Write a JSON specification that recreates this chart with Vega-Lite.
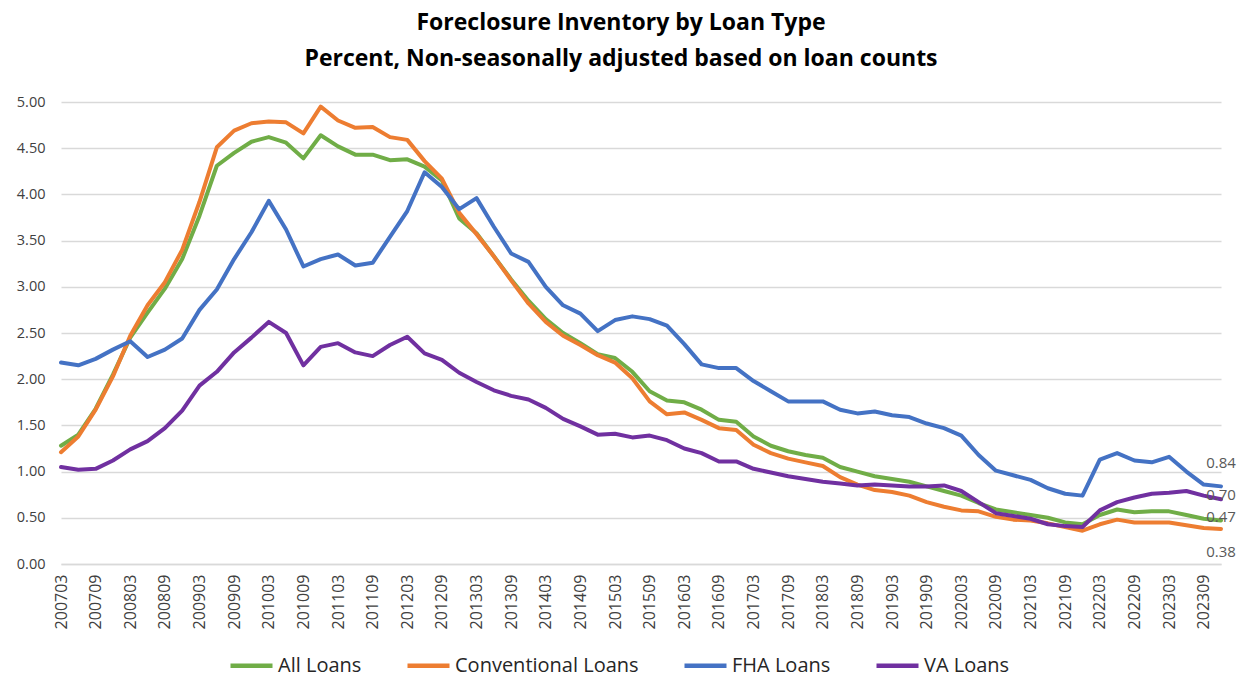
{
  "$schema": "https://vega.github.io/schema/vega-lite/v6.json",
  "autosize": {"type": "none"},
  "padding": {"left": 61, "top": 102, "right": 24, "bottom": 118},
  "width": 1160,
  "height": 462,
  "background": "white",
  "title": {
    "text": ["Foreclosure Inventory by Loan Type", "Percent, Non-seasonally adjusted based on loan counts"],
    "font": "Open Sans",
    "fontSize": 23,
    "fontWeight": "bold",
    "color": "#000000",
    "lineHeight": 36,
    "anchor": "middle",
    "dx": -20,
    "offset": 23
  },
  "data": {"values": [
    {"q":"200703","s":"All Loans","v":1.28},{"q":"200706","s":"All Loans","v":1.40},{"q":"200709","s":"All Loans","v":1.68},{"q":"200712","s":"All Loans","v":2.05},
    {"q":"200803","s":"All Loans","v":2.45},{"q":"200806","s":"All Loans","v":2.72},{"q":"200809","s":"All Loans","v":2.98},{"q":"200812","s":"All Loans","v":3.30},
    {"q":"200903","s":"All Loans","v":3.77},{"q":"200906","s":"All Loans","v":4.31},{"q":"200909","s":"All Loans","v":4.45},{"q":"200912","s":"All Loans","v":4.57},
    {"q":"201003","s":"All Loans","v":4.62},{"q":"201006","s":"All Loans","v":4.56},{"q":"201009","s":"All Loans","v":4.39},{"q":"201012","s":"All Loans","v":4.64},
    {"q":"201103","s":"All Loans","v":4.52},{"q":"201106","s":"All Loans","v":4.43},{"q":"201109","s":"All Loans","v":4.43},{"q":"201112","s":"All Loans","v":4.37},
    {"q":"201203","s":"All Loans","v":4.38},{"q":"201206","s":"All Loans","v":4.30},{"q":"201209","s":"All Loans","v":4.15},{"q":"201212","s":"All Loans","v":3.74},
    {"q":"201303","s":"All Loans","v":3.58},{"q":"201306","s":"All Loans","v":3.33},{"q":"201309","s":"All Loans","v":3.08},{"q":"201312","s":"All Loans","v":2.85},
    {"q":"201403","s":"All Loans","v":2.65},{"q":"201406","s":"All Loans","v":2.50},{"q":"201409","s":"All Loans","v":2.39},{"q":"201412","s":"All Loans","v":2.27},
    {"q":"201503","s":"All Loans","v":2.23},{"q":"201506","s":"All Loans","v":2.08},{"q":"201509","s":"All Loans","v":1.87},{"q":"201512","s":"All Loans","v":1.77},
    {"q":"201603","s":"All Loans","v":1.75},{"q":"201606","s":"All Loans","v":1.67},{"q":"201609","s":"All Loans","v":1.56},{"q":"201612","s":"All Loans","v":1.54},
    {"q":"201703","s":"All Loans","v":1.38},{"q":"201706","s":"All Loans","v":1.28},{"q":"201709","s":"All Loans","v":1.22},{"q":"201712","s":"All Loans","v":1.18},
    {"q":"201803","s":"All Loans","v":1.15},{"q":"201806","s":"All Loans","v":1.05},{"q":"201809","s":"All Loans","v":1.00},{"q":"201812","s":"All Loans","v":0.95},
    {"q":"201903","s":"All Loans","v":0.92},{"q":"201906","s":"All Loans","v":0.89},{"q":"201909","s":"All Loans","v":0.84},{"q":"201912","s":"All Loans","v":0.79},
    {"q":"202003","s":"All Loans","v":0.74},{"q":"202006","s":"All Loans","v":0.66},{"q":"202009","s":"All Loans","v":0.59},{"q":"202012","s":"All Loans","v":0.56},
    {"q":"202103","s":"All Loans","v":0.53},{"q":"202106","s":"All Loans","v":0.50},{"q":"202109","s":"All Loans","v":0.45},{"q":"202112","s":"All Loans","v":0.43},
    {"q":"202203","s":"All Loans","v":0.53},{"q":"202206","s":"All Loans","v":0.59},{"q":"202209","s":"All Loans","v":0.56},{"q":"202212","s":"All Loans","v":0.57},
    {"q":"202303","s":"All Loans","v":0.57},{"q":"202306","s":"All Loans","v":0.53},{"q":"202309","s":"All Loans","v":0.49},{"q":"202312","s":"All Loans","v":0.47},

    {"q":"200703","s":"Conventional Loans","v":1.21},{"q":"200706","s":"Conventional Loans","v":1.38},{"q":"200709","s":"Conventional Loans","v":1.67},{"q":"200712","s":"Conventional Loans","v":2.03},
    {"q":"200803","s":"Conventional Loans","v":2.47},{"q":"200806","s":"Conventional Loans","v":2.80},{"q":"200809","s":"Conventional Loans","v":3.05},{"q":"200812","s":"Conventional Loans","v":3.40},
    {"q":"200903","s":"Conventional Loans","v":3.92},{"q":"200906","s":"Conventional Loans","v":4.51},{"q":"200909","s":"Conventional Loans","v":4.69},{"q":"200912","s":"Conventional Loans","v":4.77},
    {"q":"201003","s":"Conventional Loans","v":4.79},{"q":"201006","s":"Conventional Loans","v":4.78},{"q":"201009","s":"Conventional Loans","v":4.66},{"q":"201012","s":"Conventional Loans","v":4.95},
    {"q":"201103","s":"Conventional Loans","v":4.80},{"q":"201106","s":"Conventional Loans","v":4.72},{"q":"201109","s":"Conventional Loans","v":4.73},{"q":"201112","s":"Conventional Loans","v":4.62},
    {"q":"201203","s":"Conventional Loans","v":4.59},{"q":"201206","s":"Conventional Loans","v":4.36},{"q":"201209","s":"Conventional Loans","v":4.17},{"q":"201212","s":"Conventional Loans","v":3.80},
    {"q":"201303","s":"Conventional Loans","v":3.57},{"q":"201306","s":"Conventional Loans","v":3.33},{"q":"201309","s":"Conventional Loans","v":3.07},{"q":"201312","s":"Conventional Loans","v":2.82},
    {"q":"201403","s":"Conventional Loans","v":2.62},{"q":"201406","s":"Conventional Loans","v":2.47},{"q":"201409","s":"Conventional Loans","v":2.37},{"q":"201412","s":"Conventional Loans","v":2.26},
    {"q":"201503","s":"Conventional Loans","v":2.18},{"q":"201506","s":"Conventional Loans","v":2.01},{"q":"201509","s":"Conventional Loans","v":1.76},{"q":"201512","s":"Conventional Loans","v":1.62},
    {"q":"201603","s":"Conventional Loans","v":1.64},{"q":"201606","s":"Conventional Loans","v":1.56},{"q":"201609","s":"Conventional Loans","v":1.47},{"q":"201612","s":"Conventional Loans","v":1.45},
    {"q":"201703","s":"Conventional Loans","v":1.29},{"q":"201706","s":"Conventional Loans","v":1.20},{"q":"201709","s":"Conventional Loans","v":1.14},{"q":"201712","s":"Conventional Loans","v":1.10},
    {"q":"201803","s":"Conventional Loans","v":1.06},{"q":"201806","s":"Conventional Loans","v":0.94},{"q":"201809","s":"Conventional Loans","v":0.86},{"q":"201812","s":"Conventional Loans","v":0.80},
    {"q":"201903","s":"Conventional Loans","v":0.78},{"q":"201906","s":"Conventional Loans","v":0.74},{"q":"201909","s":"Conventional Loans","v":0.67},{"q":"201912","s":"Conventional Loans","v":0.62},
    {"q":"202003","s":"Conventional Loans","v":0.58},{"q":"202006","s":"Conventional Loans","v":0.57},{"q":"202009","s":"Conventional Loans","v":0.51},{"q":"202012","s":"Conventional Loans","v":0.48},
    {"q":"202103","s":"Conventional Loans","v":0.47},{"q":"202106","s":"Conventional Loans","v":0.44},{"q":"202109","s":"Conventional Loans","v":0.40},{"q":"202112","s":"Conventional Loans","v":0.36},
    {"q":"202203","s":"Conventional Loans","v":0.43},{"q":"202206","s":"Conventional Loans","v":0.48},{"q":"202209","s":"Conventional Loans","v":0.45},{"q":"202212","s":"Conventional Loans","v":0.45},
    {"q":"202303","s":"Conventional Loans","v":0.45},{"q":"202306","s":"Conventional Loans","v":0.42},{"q":"202309","s":"Conventional Loans","v":0.39},{"q":"202312","s":"Conventional Loans","v":0.38},

    {"q":"200703","s":"FHA Loans","v":2.18},{"q":"200706","s":"FHA Loans","v":2.15},{"q":"200709","s":"FHA Loans","v":2.22},{"q":"200712","s":"FHA Loans","v":2.32},
    {"q":"200803","s":"FHA Loans","v":2.41},{"q":"200806","s":"FHA Loans","v":2.24},{"q":"200809","s":"FHA Loans","v":2.32},{"q":"200812","s":"FHA Loans","v":2.44},
    {"q":"200903","s":"FHA Loans","v":2.75},{"q":"200906","s":"FHA Loans","v":2.97},{"q":"200909","s":"FHA Loans","v":3.30},{"q":"200912","s":"FHA Loans","v":3.59},
    {"q":"201003","s":"FHA Loans","v":3.93},{"q":"201006","s":"FHA Loans","v":3.62},{"q":"201009","s":"FHA Loans","v":3.22},{"q":"201012","s":"FHA Loans","v":3.30},
    {"q":"201103","s":"FHA Loans","v":3.35},{"q":"201106","s":"FHA Loans","v":3.23},{"q":"201109","s":"FHA Loans","v":3.26},{"q":"201112","s":"FHA Loans","v":3.54},
    {"q":"201203","s":"FHA Loans","v":3.82},{"q":"201206","s":"FHA Loans","v":4.24},{"q":"201209","s":"FHA Loans","v":4.08},{"q":"201212","s":"FHA Loans","v":3.84},
    {"q":"201303","s":"FHA Loans","v":3.96},{"q":"201306","s":"FHA Loans","v":3.65},{"q":"201309","s":"FHA Loans","v":3.36},{"q":"201312","s":"FHA Loans","v":3.27},
    {"q":"201403","s":"FHA Loans","v":3.00},{"q":"201406","s":"FHA Loans","v":2.80},{"q":"201409","s":"FHA Loans","v":2.71},{"q":"201412","s":"FHA Loans","v":2.52},
    {"q":"201503","s":"FHA Loans","v":2.64},{"q":"201506","s":"FHA Loans","v":2.68},{"q":"201509","s":"FHA Loans","v":2.65},{"q":"201512","s":"FHA Loans","v":2.58},
    {"q":"201603","s":"FHA Loans","v":2.38},{"q":"201606","s":"FHA Loans","v":2.16},{"q":"201609","s":"FHA Loans","v":2.12},{"q":"201612","s":"FHA Loans","v":2.12},
    {"q":"201703","s":"FHA Loans","v":1.98},{"q":"201706","s":"FHA Loans","v":1.87},{"q":"201709","s":"FHA Loans","v":1.76},{"q":"201712","s":"FHA Loans","v":1.76},
    {"q":"201803","s":"FHA Loans","v":1.76},{"q":"201806","s":"FHA Loans","v":1.67},{"q":"201809","s":"FHA Loans","v":1.63},{"q":"201812","s":"FHA Loans","v":1.65},
    {"q":"201903","s":"FHA Loans","v":1.61},{"q":"201906","s":"FHA Loans","v":1.59},{"q":"201909","s":"FHA Loans","v":1.52},{"q":"201912","s":"FHA Loans","v":1.47},
    {"q":"202003","s":"FHA Loans","v":1.39},{"q":"202006","s":"FHA Loans","v":1.18},{"q":"202009","s":"FHA Loans","v":1.01},{"q":"202012","s":"FHA Loans","v":0.96},
    {"q":"202103","s":"FHA Loans","v":0.91},{"q":"202106","s":"FHA Loans","v":0.82},{"q":"202109","s":"FHA Loans","v":0.76},{"q":"202112","s":"FHA Loans","v":0.74},
    {"q":"202203","s":"FHA Loans","v":1.13},{"q":"202206","s":"FHA Loans","v":1.20},{"q":"202209","s":"FHA Loans","v":1.12},{"q":"202212","s":"FHA Loans","v":1.10},
    {"q":"202303","s":"FHA Loans","v":1.16},{"q":"202306","s":"FHA Loans","v":1.00},{"q":"202309","s":"FHA Loans","v":0.86},{"q":"202312","s":"FHA Loans","v":0.84},

    {"q":"200703","s":"VA Loans","v":1.05},{"q":"200706","s":"VA Loans","v":1.02},{"q":"200709","s":"VA Loans","v":1.03},{"q":"200712","s":"VA Loans","v":1.12},
    {"q":"200803","s":"VA Loans","v":1.24},{"q":"200806","s":"VA Loans","v":1.33},{"q":"200809","s":"VA Loans","v":1.47},{"q":"200812","s":"VA Loans","v":1.66},
    {"q":"200903","s":"VA Loans","v":1.93},{"q":"200906","s":"VA Loans","v":2.08},{"q":"200909","s":"VA Loans","v":2.29},{"q":"200912","s":"VA Loans","v":2.45},
    {"q":"201003","s":"VA Loans","v":2.62},{"q":"201006","s":"VA Loans","v":2.50},{"q":"201009","s":"VA Loans","v":2.15},{"q":"201012","s":"VA Loans","v":2.35},
    {"q":"201103","s":"VA Loans","v":2.39},{"q":"201106","s":"VA Loans","v":2.29},{"q":"201109","s":"VA Loans","v":2.25},{"q":"201112","s":"VA Loans","v":2.37},
    {"q":"201203","s":"VA Loans","v":2.46},{"q":"201206","s":"VA Loans","v":2.28},{"q":"201209","s":"VA Loans","v":2.21},{"q":"201212","s":"VA Loans","v":2.07},
    {"q":"201303","s":"VA Loans","v":1.97},{"q":"201306","s":"VA Loans","v":1.88},{"q":"201309","s":"VA Loans","v":1.82},{"q":"201312","s":"VA Loans","v":1.78},
    {"q":"201403","s":"VA Loans","v":1.69},{"q":"201406","s":"VA Loans","v":1.57},{"q":"201409","s":"VA Loans","v":1.49},{"q":"201412","s":"VA Loans","v":1.40},
    {"q":"201503","s":"VA Loans","v":1.41},{"q":"201506","s":"VA Loans","v":1.37},{"q":"201509","s":"VA Loans","v":1.39},{"q":"201512","s":"VA Loans","v":1.34},
    {"q":"201603","s":"VA Loans","v":1.25},{"q":"201606","s":"VA Loans","v":1.20},{"q":"201609","s":"VA Loans","v":1.11},{"q":"201612","s":"VA Loans","v":1.11},
    {"q":"201703","s":"VA Loans","v":1.03},{"q":"201706","s":"VA Loans","v":0.99},{"q":"201709","s":"VA Loans","v":0.95},{"q":"201712","s":"VA Loans","v":0.92},
    {"q":"201803","s":"VA Loans","v":0.89},{"q":"201806","s":"VA Loans","v":0.87},{"q":"201809","s":"VA Loans","v":0.85},{"q":"201812","s":"VA Loans","v":0.86},
    {"q":"201903","s":"VA Loans","v":0.85},{"q":"201906","s":"VA Loans","v":0.84},{"q":"201909","s":"VA Loans","v":0.84},{"q":"201912","s":"VA Loans","v":0.85},
    {"q":"202003","s":"VA Loans","v":0.79},{"q":"202006","s":"VA Loans","v":0.67},{"q":"202009","s":"VA Loans","v":0.55},{"q":"202012","s":"VA Loans","v":0.52},
    {"q":"202103","s":"VA Loans","v":0.49},{"q":"202106","s":"VA Loans","v":0.43},{"q":"202109","s":"VA Loans","v":0.41},{"q":"202112","s":"VA Loans","v":0.40},
    {"q":"202203","s":"VA Loans","v":0.58},{"q":"202206","s":"VA Loans","v":0.67},{"q":"202209","s":"VA Loans","v":0.72},{"q":"202212","s":"VA Loans","v":0.76},
    {"q":"202303","s":"VA Loans","v":0.77},{"q":"202306","s":"VA Loans","v":0.79},{"q":"202309","s":"VA Loans","v":0.74},{"q":"202312","s":"VA Loans","v":0.70}
  ]},
  "encoding": {
    "x": {
      "field": "q", "type": "ordinal",
      "scale": {"type": "point", "padding": 0},
      "axis": {
        "title": null,
        "values": ["200703","200709","200803","200809","200903","200909","201003","201009","201103","201109","201203","201209","201303","201309","201403","201409","201503","201509","201603","201609","201703","201709","201803","201809","201903","201909","202003","202009","202103","202109","202203","202209","202303","202309"],
        "labelAngle": -90,
        "labelAlign": "right",
        "labelBaseline": "middle",
        "labelPadding": 10,
        "labelFont": "Open Sans",
        "labelFontSize": 16,
        "labelColor": "#404040",
        "ticks": false,
        "grid": false,
        "domain": true,
        "domainColor": "#D9D9D9",
        "domainWidth": 1.5,
        "labelOverlap": false
      }
    },
    "y": {
      "field": "v", "type": "quantitative",
      "scale": {"domain": [0, 5], "nice": false, "zero": true},
      "axis": {
        "title": null,
        "values": [0, 0.5, 1, 1.5, 2, 2.5, 3, 3.5, 4, 4.5, 5],
        "format": ".2f",
        "labelFont": "Open Sans",
        "labelFontSize": 14.5,
        "labelColor": "#404040",
        "labelPadding": 16,
        "ticks": false,
        "domain": false,
        "grid": true,
        "gridColor": "#D9D9D9",
        "gridWidth": 1.5
      }
    }
  },
  "layer": [
    {
      "mark": {"type": "line", "strokeWidth": 4, "strokeJoin": "round", "strokeCap": "round"},
      "encoding": {
        "color": {
          "field": "s", "type": "nominal",
          "scale": {
            "domain": ["All Loans", "Conventional Loans", "FHA Loans", "VA Loans"],
            "range": ["#70AD47", "#ED7D31", "#4472C4", "#7030A0"]
          },
          "legend": {
            "title": null,
            "orient": "none",
            "legendX": 167,
            "legendY": 540,
            "direction": "horizontal",
            "symbolType": "stroke",
            "symbolStrokeWidth": 4.5,
            "symbolSize": 1764,
            "labelFont": "Open Sans",
            "labelFontSize": 20,
            "labelColor": "#262626",
            "labelLimit": 0,
            "labelOffset": 3,
            "columnPadding": 36
          }
        }
      }
    },
    {
      "transform": [{"filter": "datum.q == '202312' && datum.s == 'FHA Loans'"}],
      "mark": {"type": "text", "dy": -23, "align": "center", "font": "Open Sans", "fontSize": 15, "color": "#595959"},
      "encoding": {"text": {"field": "v", "type": "quantitative", "format": ".2f"}}
    },
    {
      "transform": [{"filter": "datum.q == '202312' && (datum.s == 'VA Loans' || datum.s == 'All Loans')"}],
      "mark": {"type": "text", "dy": -4, "align": "center", "font": "Open Sans", "fontSize": 15, "color": "#595959"},
      "encoding": {"text": {"field": "v", "type": "quantitative", "format": ".2f"}}
    },
    {
      "transform": [{"filter": "datum.q == '202312' && datum.s == 'Conventional Loans'"}],
      "mark": {"type": "text", "dy": 23, "align": "center", "font": "Open Sans", "fontSize": 15, "color": "#595959"},
      "encoding": {"text": {"field": "v", "type": "quantitative", "format": ".2f"}}
    }
  ],
  "config": {
    "view": {"stroke": null}
  }
}
